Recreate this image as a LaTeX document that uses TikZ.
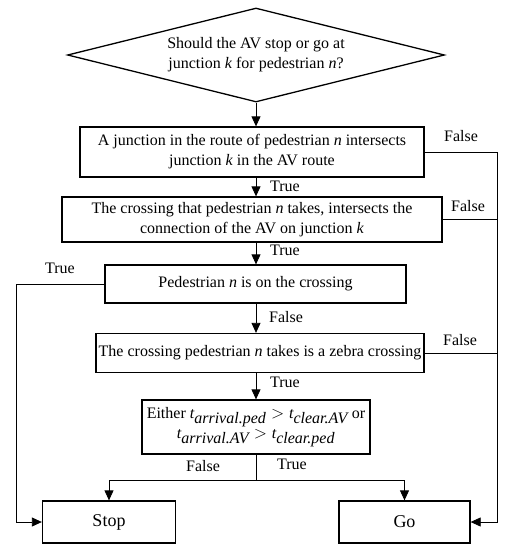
\documentclass[tikz,border=0pt]{standalone}
\usepackage{fontspec}
\setmainfont{Liberation Serif}
\usetikzlibrary{shapes.geometric,arrows.meta}
\tikzset{
  box/.style={draw, line width=1.3pt, inner sep=0pt, align=center, font=\fontsize{16}{20}\selectfont},
  endbox/.style={draw, line width=1.3pt, inner sep=0pt, align=center, font=\fontsize{18}{22}\selectfont, minimum width=133pt, minimum height=42pt},
  dec/.style={draw, line width=1.3pt, diamond, aspect=4, inner sep=0pt, align=center, font=\fontsize{16}{20}\selectfont, minimum width=377pt, minimum height=94pt},
  conn/.style={line width=0.8pt},
  arr/.style={line width=0.8pt, -{Triangle[length=10pt,width=9pt]}},
  lab/.style={font=\fontsize{16}{20}\selectfont, inner sep=0pt}
}
\newcommand{\vi}[1]{\textit{#1}}
\begin{document}
\begin{tikzpicture}[x=1pt,y=-1pt]
\useasboundingbox (0,0) rectangle (512,550);
\node[dec] (d) at (256,55) {Should the AV stop or go at\\ junction \vi{k} for pedestrian \vi{n}?};
\node[box, minimum width=344pt, minimum height=50pt] (b1) at (252,152) {A junction in the route of pedestrian \vi{n} intersects\\ junction \vi{k} in the AV route};
\node[box, minimum width=380pt, minimum height=45pt] (b2) at (252,219.5) {The crossing that pedestrian \vi{n} takes, intersects the\\ connection of the AV on junction \vi{k}};
\node[box, minimum width=301pt, minimum height=38pt] (b3) at (255.5,284) {Pedestrian \vi{n} is on the crossing};
\node[box, minimum width=328pt, minimum height=39pt] (b4) at (260,353) {The crossing pedestrian \vi{n} takes is a zebra crossing};
\node[box, minimum width=228pt, minimum height=54pt] (b5) at (256,427) {Either $\vi{t}_{\vi{arrival.ped}} > \vi{t}_{\vi{clear.AV}}$ or\\ $\vi{t}_{\vi{arrival.AV}} > \vi{t}_{\vi{clear.ped}}$};
\node[endbox] (stop) at (109,522) {Stop};
\node[endbox, minimum width=131pt] (go) at (404.5,522) {Go};
\coordinate (R) at (497,150);
\coordinate (L) at (16,284);
\coordinate (J) at (256,480);
% main spine
\draw[arr] (d.south) -- (d.south |- b1.north);
\draw[arr] (b1.south -| J) -- (b2.north -| J);
\draw[arr] (b2.south -| J) -- (b3.north -| J);
\draw[arr] (b3.south -| J) -- (b4.north -| J);
\draw[arr] (b4.south -| J) -- (b5.north -| J);
\draw[conn] (b5.south -| J) -- (J);
\draw[arr] (J) -| (stop.north);
\draw[arr] (J) -| (go.north);
% right false branch
\draw[arr] (b1.east) -- (b1.east -| R) |- (go.east);
\draw[conn] (b2.east) -- (b2.east -| R);
\draw[conn] (b4.east) -- (b4.east -| R);
% left true branch
\draw[arr] (b3.west) -- (b3.west -| L) |- (stop.west);
% labels
\node[lab] (l1) at (461,136) {False};
\node[lab] (l2) at (468,206) {False};
\node[lab] (l3) at (60,268) {True};
\node[lab] (l4) at (460,340) {False};
\node[lab] (l5) at (285,186) {True};
\node[lab] (l6) at (285,250) {True};
\node[lab] (l7) at (286,317) {False};
\node[lab] (l8) at (285,382) {True};
\node[lab] (l9) at (203,466) {False};
\node[lab] (l10) at (292,464) {True};
\end{tikzpicture}
\end{document}
